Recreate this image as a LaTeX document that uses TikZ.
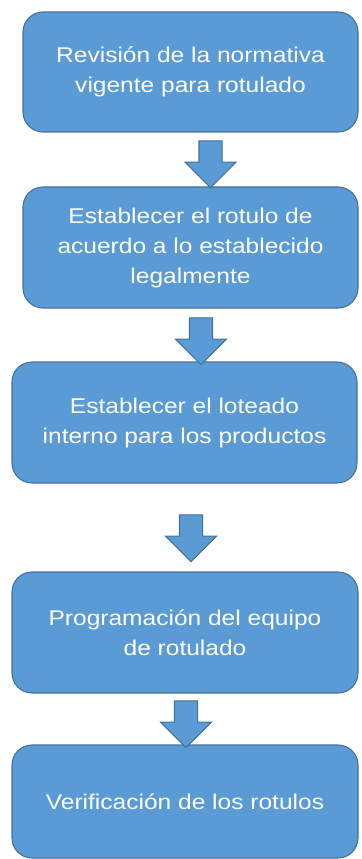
\documentclass[tikz,border=0pt]{standalone}
\usepackage{fontspec}
\usepackage{xcolor}
\usepackage{tikz}
\usetikzlibrary{shapes.arrows}
\newfontfamily\boxfont[FakeStretch=1.15]{Liberation Sans}
\definecolor{paso}{RGB}{91,155,213}
\definecolor{borde}{RGB}{65,113,156}
\tikzset{
  stepbox/.style={draw=borde, line width=0.8pt, fill=paso, rounded corners=15pt,
    align=center, text=white, inner sep=0pt,
    font=\boxfont\fontsize{16}{22.5}\selectfont},
  downarrow/.style={draw=borde, line width=0.8pt, fill=paso, single arrow,
    shape border rotate=270, inner sep=8.25pt, minimum height=35pt,
    single arrow head extend=10.5pt}
}
\begin{document}
\begin{tikzpicture}[x=0.75pt,y=-0.75pt]
  \useasboundingbox (0,0) rectangle (361,859);
  % pasos
  \node[stepbox, minimum width=251.25pt, minimum height=90pt]    (rev)  at (190.5,72)    {Revisión de la normativa\\vigente para rotulado};
  \node[stepbox, minimum width=251.25pt, minimum height=90.75pt] (rot)  at (190.5,247.5) {Establecer el rotulo de\\acuerdo a lo establecido\\legalmente};
  \node[stepbox, minimum width=258.75pt, minimum height=90.75pt] (lote) at (184.5,422.5) {Establecer el loteado\\interno para los productos};
  \node[stepbox, minimum width=259.5pt, minimum height=90.75pt]  (prog) at (185,632.5)   {Programación del equipo\\de rotulado};
  \node[stepbox, minimum width=259.5pt, minimum height=84.75pt]  (ver)  at (185,801.5)   {Verificación de los rotulos};
  % flechas
  \node[downarrow] (f1) at (210.5,158.5) {};
  \node[downarrow] (f2) at (201,335.5)   {};
  \node[downarrow] (f3) at (191,532.5)   {};
  \node[downarrow] (f4) at (186,718.5)   {};
\end{tikzpicture}
\end{document}
